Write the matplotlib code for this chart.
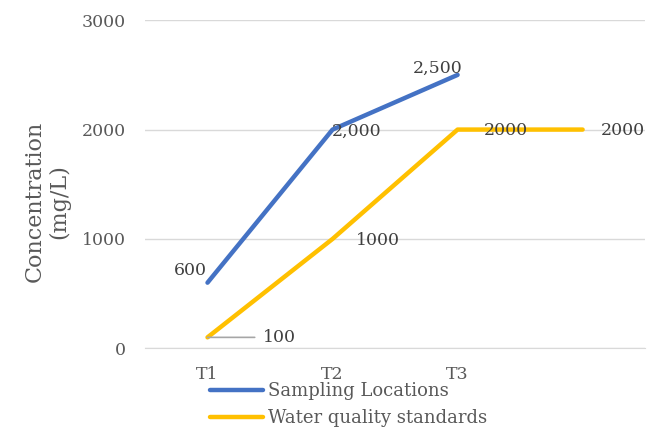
import matplotlib
matplotlib.use("Agg")
import matplotlib.pyplot as plt

categories = ["T1", "T2", "T3", ""]
sampling = [600, 2000, 2500]
standards = [100, 1000, 2000, 2000]
sampling_labels = ["600", "2,000", "2,500"]
standards_labels = ["100", "1000", "2000", "2000"]
yticks = [0, 1000, 2000, 3000]

BLUE = "#4472C4"
GOLD = "#FFC000"
GREY = "#595959"
FS = 12.5

plt.rcParams["font.family"] = ["DejaVu Serif"]

fig = plt.figure(figsize=(6.59, 4.30), dpi=100)
ax = fig.add_axes([0.22, 0.19, 0.759, 0.763])

x = list(range(len(categories)))
ax.plot(x[:len(sampling)], sampling, color=BLUE, lw=3.2, solid_capstyle="round",
        solid_joinstyle="round", label="Sampling Locations", zorder=3)
ax.plot(x, standards, color=GOLD, lw=3.2, solid_capstyle="round",
        solid_joinstyle="round", label="Water quality standards", zorder=3)

ax.set_xlim(-0.5, len(categories) - 0.5)
ax.set_ylim(0, 3000)
ax.set_yticks(yticks)
ax.set_xticks(x)
ax.set_xticklabels(categories)
ax.yaxis.grid(True, color="#D9D9D9", lw=1)
ax.set_axisbelow(True)
for s in ax.spines.values():
    s.set_visible(False)
ax.spines["bottom"].set_visible(True)
ax.spines["bottom"].set_color("#D9D9D9")
ax.tick_params(length=0, labelsize=FS, colors=GREY)
ax.tick_params(axis="x", pad=13)
ax.tick_params(axis="y", pad=14)

ax.set_ylabel("Concentration\n(mg/L)", fontsize=16, color=GREY,
              linespacing=1.1)
ax.yaxis.set_label_coords(-0.15, 0.448)

# value labels
lbl = dict(fontsize=FS, color="#404040", textcoords="offset points",
           ha="center", va="center")
ax.annotate(sampling_labels[0], (x[0], sampling[0]), xytext=(-12, 9), **lbl)
ax.annotate(sampling_labels[1], (x[1], sampling[1]), xytext=(17, -1), **lbl)
ax.annotate(sampling_labels[2], (x[2], sampling[2]), xytext=(-14, 5), **lbl)

ax.annotate(standards_labels[0], (x[0], standards[0]), xytext=(40, 0),
            textcoords="offset points", ha="left", va="center",
            fontsize=FS, color="#404040",
            arrowprops=dict(arrowstyle="-", color="#A6A6A6", lw=1.2,
                            shrinkA=4, shrinkB=0))
ax.annotate(standards_labels[1], (x[1], standards[1]), xytext=(33, -1), **lbl)
ax.annotate(standards_labels[2], (x[2], standards[2]), xytext=(35, -1), **lbl)
ax.annotate(standards_labels[3], (x[3], standards[3]), xytext=(29, -1), **lbl)

leg = ax.legend(loc="upper left", bbox_to_anchor=(0.116, -0.082), frameon=False,
                fontsize=13, handlelength=2.9, handletextpad=0.3,
                labelspacing=0.5, borderaxespad=0)
for t in leg.get_texts():
    t.set_color(GREY)

fig.savefig("out.png", dpi=100)
